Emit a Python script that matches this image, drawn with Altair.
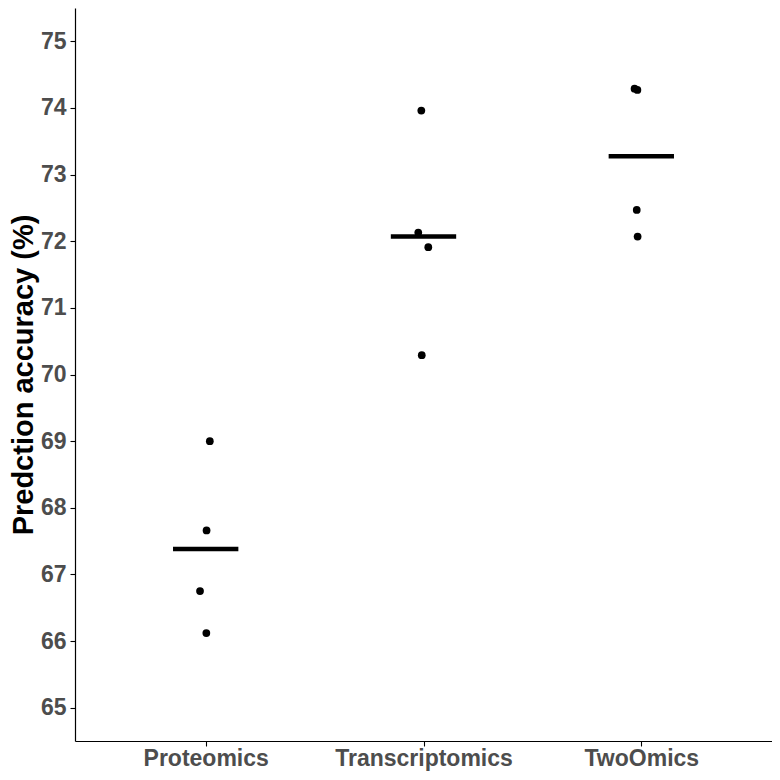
import altair as alt
import pandas as pd

categories = ["Proteomics", "Transcriptomics", "TwoOmics"]
proteomics = [69.00, 67.66, 66.75, 66.12]
transcriptomics = [73.96, 72.13, 71.91, 70.29]
twoomics = [74.29, 74.27, 72.47, 72.07]
# horizontal jitter (in category units)
proteomics_jit = [0.019, 0.004, -0.026, 0.003]
transcriptomics_jit = [-0.010, -0.024, 0.022, -0.008]
twoomics_jit = [-0.031, -0.018, -0.021, -0.017]
y_ticks = [65, 66, 67, 68, 69, 70, 71, 72, 73, 74, 75]

rows = []
for i, (vals, jit) in enumerate([(proteomics, proteomics_jit),
                                  (transcriptomics, transcriptomics_jit),
                                  (twoomics, twoomics_jit)]):
    for v, j in zip(vals, jit):
        rows.append({"cat": categories[i], "idx": i + 1, "acc": v, "pos": i + 1 + j})
df = pd.DataFrame(rows)

FONT = "Liberation Sans"
W, H = 697, 733
xscale = alt.Scale(domain=[0.4, 3.6], nice=False, zero=False)
yscale = alt.Scale(domain=[64.5, 75.5], nice=False, zero=False)

label_expr = "['', '" + "', '".join(categories) + "'][datum.value]"

xaxis = alt.Axis(values=[1, 2, 3], labelExpr=label_expr, title=None, grid=False,
                 labelPadding=1, labelFlush=False, labelOverlap=False)
yaxis = alt.Axis(values=y_ticks, format="d", title="Predction accuracy (%)", grid=False,
                 labelPadding=4, titleFontSize=29, titleFontWeight="bold",
                 titleColor="black", titleFont=FONT, titleAngle=-90,
                 titleX=-66, titleY=H / 2, titleBaseline="top", titleAlign="center")

points = alt.Chart(df).mark_circle(size=60, color="black", opacity=1).encode(
    x=alt.X("pos:Q", scale=xscale, axis=xaxis),
    y=alt.Y("acc:Q", scale=yscale, axis=yaxis),
)

means = alt.Chart(df).transform_aggregate(
    m="mean(acc)", groupby=["cat", "idx"]
).transform_calculate(
    x1="datum.idx - 0.15", x2="datum.idx + 0.15"
).mark_rule(color="black", strokeWidth=4.5, strokeCap="butt").encode(
    x=alt.X("x1:Q", scale=xscale),
    x2="x2:Q",
    y=alt.Y("m:Q", scale=yscale),
)

chart = alt.layer(points, means).properties(
    width=W, height=H,
    padding={"left": 67, "top": 0, "right": 0, "bottom": 31},
    autosize=alt.AutoSizeParams(type="none"),
    background="white",
).configure_view(stroke=None).configure_axis(
    domainColor="black", domainWidth=1.2, tickColor="black", tickSize=5,
    tickWidth=1.1, labelColor="#4D4D4D", labelFontSize=23, labelFontWeight="bold",
    labelFont=FONT,
)

chart.save("out.html", embed_options={"renderer": "svg", "actions": False})
